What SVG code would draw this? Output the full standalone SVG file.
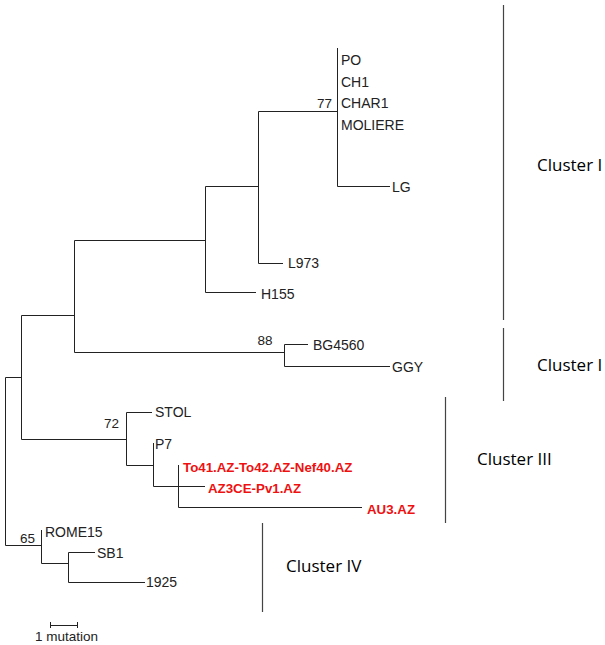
<svg xmlns="http://www.w3.org/2000/svg" width="605" height="645" viewBox="0 0 605 645">
<style>
.br{stroke:#222;stroke-width:1;fill:none}
.cl{stroke:#444;stroke-width:1.2;fill:none}
.lf{font-family:"Liberation Sans",Arial,sans-serif;font-size:14px;fill:#222}
.bs{font-family:"Liberation Sans",Arial,sans-serif;font-size:13.5px;fill:#222}
.rd{font-family:"Liberation Sans",Arial,sans-serif;font-size:13.3px;font-weight:bold;fill:#ee1111}
.ct{font-family:"Open Sans","Noto Sans",sans-serif;font-size:17px;fill:#000}
</style>
<rect width="605" height="645" fill="#fff"/>
<g id="connectors" class="br">
<path d="M5.5,377.5V545.5M5.5,377.5H21.5M5.5,545.5H41.5"/>
<path d="M21.5,315.5V439.5M21.5,315.5H74.5M21.5,439.5H126.5"/>
<path d="M74.5,240.5V352.5M74.5,240.5H205.5M74.5,352.5H284.5"/>
<path d="M205.5,186.5V292.5M205.5,186.5H258.5M205.5,292.5H256"/>
<path d="M258.5,111.5V263.5M258.5,111.5H337.5M258.5,263.5H283"/>
<path d="M337.5,48V186.5H390"/>
<path d="M284.5,344.5V366.5M284.5,344.5H308M284.5,366.5H390"/>
<path d="M126.5,412.5V465.5M126.5,412.5H152M126.5,465.5H153.5"/>
<path d="M153.5,443V486.5M153.5,486.5H205"/>
<path d="M178.5,465V507.5H362"/>
<path d="M41.5,530V563.5H68.5M68.5,552.5V582.5M68.5,552.5H95M68.5,582.5H145"/>
<path d="M50.5,622V628M77.5,622V628M50.5,625.5H77.5"/>
</g>
<g id="leaf-PO"><text class="lf" x="341" y="65">PO</text></g>
<g id="leaf-CH1"><text class="lf" x="341" y="87">CH1</text></g>
<g id="leaf-CHAR1"><text class="lf" x="341" y="108">CHAR1</text></g>
<g id="leaf-MOLIERE"><text class="lf" x="341" y="130">MOLIERE</text></g>
<g id="leaf-LG"><text class="lf" x="392" y="192">LG</text></g>
<g id="leaf-L973"><text class="lf" x="288" y="268">L973</text></g>
<g id="leaf-H155"><text class="lf" x="261" y="299">H155</text></g>
<g id="leaf-BG4560"><text class="lf" x="313" y="350">BG4560</text></g>
<g id="leaf-GGY"><text class="lf" x="392" y="372">GGY</text></g>
<g id="leaf-STOL"><text class="lf" x="155" y="417">STOL</text></g>
<g id="leaf-P7"><text class="lf" x="155" y="449">P7</text></g>
<g id="leaf-To41"><text class="rd" x="183" y="472">To41.AZ-To42.AZ-Nef40.AZ</text></g>
<g id="leaf-AZ3CE"><text class="rd" x="208" y="493">AZ3CE-Pv1.AZ</text></g>
<g id="leaf-AU3"><text class="rd" x="367" y="514">AU3.AZ</text></g>
<g id="leaf-ROME15"><text class="lf" x="45" y="537">ROME15</text></g>
<g id="leaf-SB1"><text class="lf" x="97" y="558">SB1</text></g>
<g id="leaf-1925"><text class="lf" x="146" y="587">1925</text></g>
<g id="bootstrap">
<text class="bs" x="332" y="108" text-anchor="end">77</text>
<text class="bs" x="265" y="345" text-anchor="middle">88</text>
<text class="bs" x="104" y="428">72</text>
<text class="bs" x="20" y="543">65</text>
</g>
<g id="scale"><text class="bs" x="35" y="641">1 mutation</text></g>
<g id="cluster-I-a"><path class="cl" d="M503.5,5V320"/><text class="ct" x="537" y="171">Cluster I</text></g>
<g id="cluster-I-b"><path class="cl" d="M503.5,328V401"/><text class="ct" x="537" y="371">Cluster I</text></g>
<g id="cluster-III"><path class="cl" d="M445.5,397V523"/><text class="ct" x="477" y="465">Cluster III</text></g>
<g id="cluster-IV"><path class="cl" d="M262.5,523V612"/><text class="ct" x="286" y="572">Cluster IV</text></g>
</svg>
